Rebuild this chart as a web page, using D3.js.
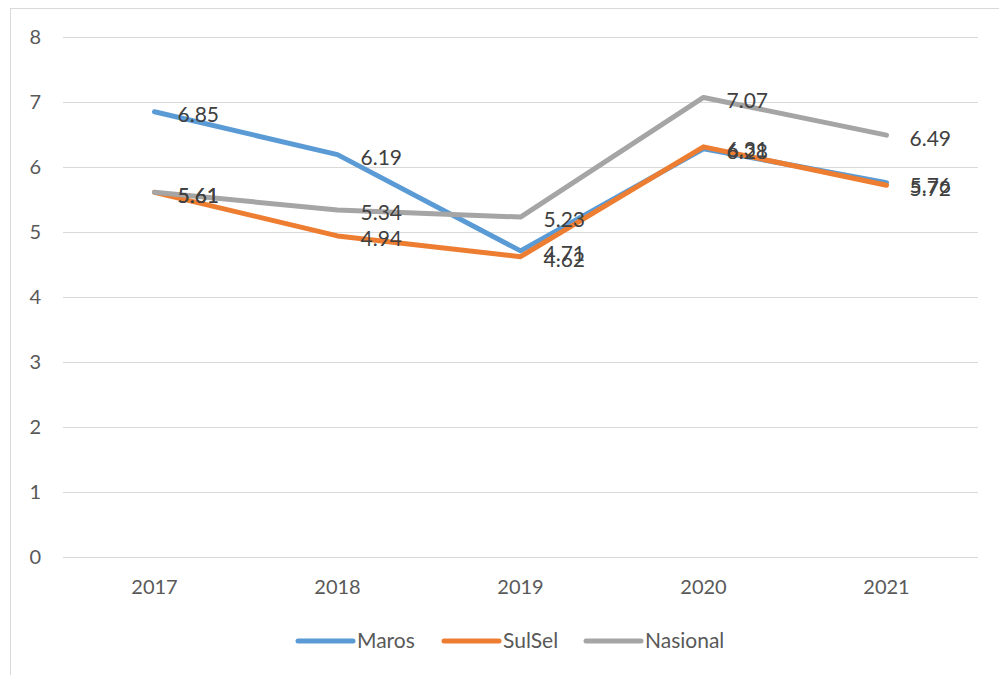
<!DOCTYPE html>
<html>
<head>
<meta charset="utf-8">
<script src="https://cdn.jsdelivr.net/npm/d3@7"></script>
<style>
  body { margin: 0; background: #fff; }
  text { font-family: Lato, "Open Sans", sans-serif; }
</style>
</head>
<body>
<svg class="chart"></svg>
<script>
var years = ["2017", "2018", "2019", "2020", "2021"];
var seriesNames = ["Maros", "SulSel", "Nasional"];
var maros = [6.85, 6.19, 4.71, 6.28, 5.76];
var sulsel = [5.61, 4.94, 4.62, 6.31, 5.72];
var nasional = [5.61, 5.34, 5.23, 7.07, 6.49];
var yTicks = [0, 1, 2, 3, 4, 5, 6, 7, 8];
var colors = ["#5B9BD5", "#ED7D31", "#A5A5A5"];

var width = 999, height = 675;
var margin = {top: 37, right: 21, bottom: 118, left: 63};

var svg = d3.select(".chart")
    .attr("width", width)
    .attr("height", height);

// chart border (only top and left visible in the crop)
svg.append("rect")
    .attr("x", 10.5).attr("y", 8.5)
    .attr("width", width + 20).attr("height", height + 20)
    .attr("fill", "none")
    .attr("stroke", "#d9d9d9")
    .attr("stroke-width", 1);

var chart = svg.append("g")
    .attr("transform", "translate(" + margin.left + "," + margin.top + ")");

var w = width - margin.left - margin.right,
    h = height - margin.top - margin.bottom;

var x = d3.scaleBand().domain(years).range([0, w]);
var y = d3.scaleLinear().domain([0, 8]).range([h, 0]);

// gridlines
chart.selectAll(".grid")
    .data(yTicks)
    .enter().append("line")
    .attr("class", "grid")
    .attr("x1", 0).attr("x2", w)
    .attr("y1", function(d) { return Math.round(y(d)) + 0.5; })
    .attr("y2", function(d) { return Math.round(y(d)) + 0.5; })
    .attr("stroke", "#d9d9d9")
    .attr("stroke-width", 1);

// y axis labels
var yAxis = d3.axisLeft(y).tickValues(yTicks).tickSize(0).tickPadding(22);
chart.append("g").call(yAxis)
    .call(function(g) { g.select(".domain").remove(); })
    .selectAll("text")
    .attr("fill", "#595959")
    .style("font-size", "20px");

// x axis labels
var xAxis = d3.axisBottom(x).tickSize(0).tickPadding(23);
chart.append("g")
    .attr("transform", "translate(0," + h + ")")
    .call(xAxis)
    .call(function(g) { g.select(".domain").remove(); })
    .selectAll("text")
    .attr("fill", "#595959")
    .style("font-size", "20px");

var series = [maros, sulsel, nasional];
var line = d3.line()
    .x(function(d, i) { return x(years[i]) + x.bandwidth() / 2; })
    .y(function(d) { return y(d); });

chart.selectAll(".series")
    .data(series)
    .enter().append("path")
    .attr("class", "series")
    .attr("d", line)
    .attr("fill", "none")
    .attr("stroke", function(d, i) { return colors[i]; })
    .attr("stroke-width", 5)
    .attr("stroke-linejoin", "round")
    .attr("stroke-linecap", "round");

// data labels, placed right of each point
series.forEach(function(s) {
    chart.selectAll(null)
        .data(s)
        .enter().append("text")
        .attr("x", function(d, i) { return x(years[i]) + x.bandwidth() / 2 + 23; })
        .attr("y", function(d) { return y(d) + 3; })
        .attr("dy", "0.35em")
        .attr("fill", "#404040")
        .style("font-size", "21px")
        .text(function(d) { return d.toFixed(2); });
});

// legend
var legend = svg.append("g").attr("transform", "translate(298,641)");
var offsets = [0, 146, 288];
seriesNames.forEach(function(name, i) {
    var g = legend.append("g").attr("transform", "translate(" + offsets[i] + ",0)");
    g.append("line")
        .attr("x1", 0).attr("x2", 55)
        .attr("stroke", colors[i])
        .attr("stroke-width", 5)
        .attr("stroke-linecap", "round");
    g.append("text")
        .attr("x", 59)
        .attr("dy", "0.35em")
        .attr("fill", "#595959")
        .style("font-size", "21px")
        .text(name);
});
</script>
</body>
</html>
